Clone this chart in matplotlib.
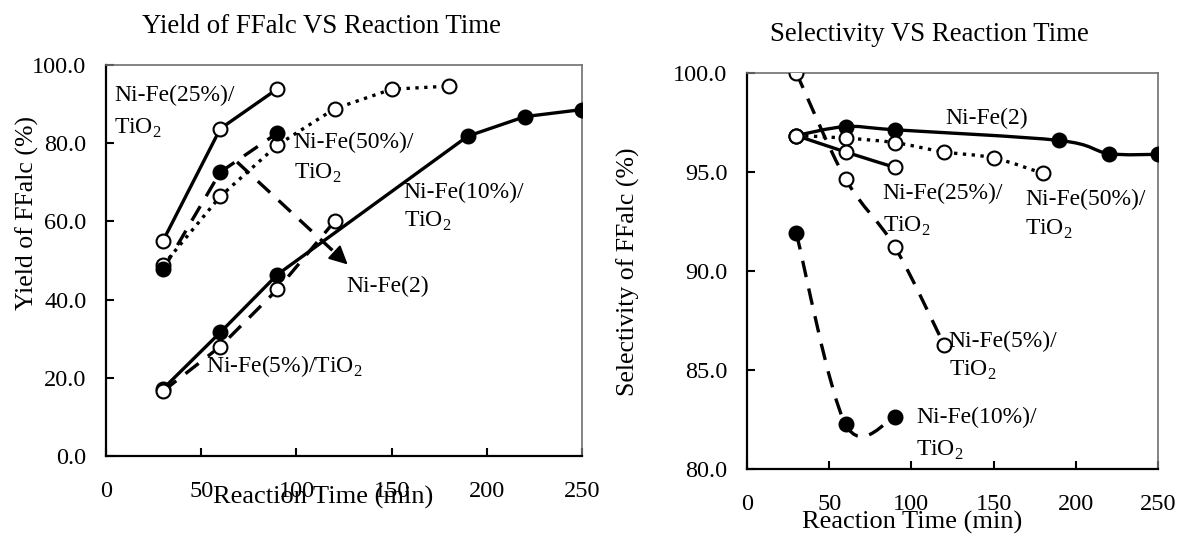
import numpy as np
import matplotlib
matplotlib.use('Agg')
import matplotlib.pyplot as plt
from matplotlib.path import Path
from matplotlib.patches import PathPatch

plt.rcParams['font.family'] = ['Liberation Serif', 'DejaVu Serif']
plt.rcParams['mathtext.fontset'] = 'custom'
plt.rcParams['mathtext.rm'] = 'Liberation Serif'

# ---- yield data (left chart) ----
t_25_y = [30, 60, 90]
y_25 = [55.1, 83.7, 93.9]
t_50_y = [30, 60, 90, 120, 150, 180]
y_50 = [48.8, 66.4, 79.5, 88.8, 93.8, 94.6]
t_2_y = [30, 60, 90]
y_2 = [47.7, 72.6, 82.6]
t_10_y = [30, 60, 90, 190, 220, 250]
y_10 = [17.2, 31.6, 46.4, 81.8, 86.8, 88.6]
t_5_y = [30, 60, 90, 120]
y_5 = [16.6, 28.0, 42.6, 60.0]

# ---- selectivity data (right chart) ----
t_2_s = [30, 60, 90, 190, 220, 250]
s_2 = [96.83, 97.28, 97.12, 96.58, 95.92, 95.88]
t_50_s = [30, 60, 90, 120, 150, 180]
s_50 = [96.83, 96.7, 96.47, 96.0, 95.7, 94.92]
t_25_s = [30, 60, 90]
s_25 = [96.83, 96.0, 95.22]
t_5_s = [30, 60, 90, 120]
s_5 = [100.0, 94.63, 91.2, 86.25]
t_10_s = [30, 60, 90]
s_10 = [91.9, 82.25, 82.63]

x_ticks = [0, 50, 100, 150, 200, 250]
y_ticks_yield = [0, 20, 40, 60, 80, 100]
y_ticks_sel = [80, 85, 90, 95, 100]

TIO2 = r'TiO$_\mathrm{2}$'
FS = 17
DASH = (0, (5, 3.5))


def smooth_path(x, y):
    # Excel-like smoothed line: cubic bezier through the points
    p = np.column_stack([x, y]).astype(float)
    n = len(p)
    verts = [p[0]]
    codes = [Path.MOVETO]
    for i in range(n - 1):
        p0 = p[i - 1] if i > 0 else p[i]
        p3 = p[i + 2] if i + 2 < n else p[i + 1]
        c1 = p[i] + (p[i + 1] - p0) / 6
        c2 = p[i + 1] - (p3 - p[i]) / 6
        verts += [c1, c2, p[i + 1]]
        codes += [Path.CURVE4] * 3
    return Path(verts, codes)


def series(ax, x, y, ls, filled, smooth=False):
    if smooth:
        ax.add_patch(PathPatch(smooth_path(x, y), fill=False, ec='black',
                               lw=2.4, ls=ls, capstyle='butt', zorder=2))
    else:
        ax.plot(x, y, color='black', lw=2.4, ls=ls, zorder=2)
    ax.plot(x, y, ls='none', marker='o', ms=10, mec='black', mew=1.5,
            mfc='black' if filled else 'white', zorder=3)


def style(ax, yticks):
    for s in ['left', 'bottom']:
        ax.spines[s].set_linewidth(1.6)
        ax.spines[s].set_color('black')
    for s in ['top', 'right']:
        ax.spines[s].set_linewidth(1.2)
        ax.spines[s].set_color('#707070')
    ax.set_xlim(0, 250)
    ax.set_xticks(x_ticks)
    ax.set_yticks(yticks)
    ax.set_yticklabels([f'{v:.1f}' for v in yticks])
    ax.tick_params(axis='x', direction='in', length=6, width=1.5, pad=18, labelsize=17.5)
    ax.tick_params(axis='y', direction='in', length=6, width=1.5, pad=14, labelsize=17.5)


fig = plt.figure(figsize=(11.78, 5.35), dpi=100)

# ---------- left: yield ----------
ax1 = fig.add_axes([0.0900, 0.1477, 0.4041, 0.7308])
series(ax1, t_25_y, y_25, '-', False)
series(ax1, t_50_y, y_50, ':', False)
series(ax1, t_2_y, y_2, DASH, True)
series(ax1, t_10_y, y_10, '-', True)
series(ax1, t_5_y, y_5, DASH, False)
style(ax1, y_ticks_yield)
ax1.set_ylim(0, 100)

# dashed arrow towards Ni-Fe(2) label
arrow_start = (68.8, 75.2)
arrow_end = (128, 48.5)
ax1.plot([arrow_start[0], arrow_end[0] - 5], [arrow_start[1], arrow_end[1] + 2.25],
         color='black', lw=2.4, ls=DASH, zorder=2)
ax1.annotate('', xy=arrow_end, xytext=(arrow_end[0] - 6, arrow_end[1] + 2.7),
             arrowprops=dict(arrowstyle='-|>', color='black', lw=1.5,
                             mutation_scale=28), zorder=2)

ax1.text(4.4, 92.1, 'Ni-Fe(25%)/', fontsize=FS, va='center')
ax1.text(4.4, 83.9, TIO2, fontsize=FS, va='center')
ax1.text(98.6, 80.1, 'Ni-Fe(50%)/', fontsize=FS, va='center')
ax1.text(98.6, 72.4, TIO2, fontsize=FS, va='center')
ax1.text(156.4, 67.3, 'Ni-Fe(10%)/', fontsize=FS, va='center')
ax1.text(156.4, 60.0, TIO2, fontsize=FS, va='center')
ax1.text(126.2, 43.4, 'Ni-Fe(2)', fontsize=FS, va='center')
ax1.text(52.7, 22.9, 'Ni-Fe(5%)/' + TIO2, fontsize=FS, va='center')

fig.text(0.273, 0.951, 'Yield of FFalc VS Reaction Time', fontsize=19.4,
         ha='center', va='center')
fig.text(0.274, 0.071, 'Reaction Time (min)', fontsize=19, ha='center', va='center')
fig.text(0.023, 0.601, 'Yield of FFalc (%)', fontsize=18.5, ha='center',
         va='center', rotation=90)

# ---------- right: selectivity ----------
ax2 = fig.add_axes([0.6341, 0.1234, 0.3489, 0.7407])
series(ax2, t_2_s, s_2, '-', True, smooth=True)
series(ax2, t_50_s, s_50, ':', False, smooth=True)
series(ax2, t_25_s, s_25, '-', False, smooth=True)
series(ax2, t_5_s, s_5, DASH, False, smooth=True)
series(ax2, t_10_s, s_10, DASH, True, smooth=True)
style(ax2, y_ticks_sel)
ax2.set_ylim(80, 100)

ax2.text(120.5, 97.67, 'Ni-Fe(2)', fontsize=FS, va='center')
ax2.text(82.5, 93.92, 'Ni-Fe(25%)/', fontsize=FS, va='center')
ax2.text(82.5, 92.25, TIO2, fontsize=FS, va='center')
ax2.text(169.3, 93.6, 'Ni-Fe(50%)/', fontsize=FS, va='center')
ax2.text(169.3, 92.08, TIO2, fontsize=FS, va='center')
ax2.text(122.7, 86.42, 'Ni-Fe(5%)/', fontsize=FS, va='center')
ax2.text(122.7, 85.0, TIO2, fontsize=FS, va='center')
ax2.text(103, 82.58, 'Ni-Fe(10%)/', fontsize=FS, va='center')
ax2.text(103, 80.92, TIO2, fontsize=FS, va='center')

fig.text(0.789, 0.936, 'Selectivity VS Reaction Time', fontsize=19.4,
         ha='center', va='center')
fig.text(0.774, 0.023, 'Reaction Time (min)', fontsize=19, ha='center', va='center')
fig.text(0.533, 0.492, 'Selectivity of FFalc (%)', fontsize=18.5, ha='center',
         va='center', rotation=90)

fig.savefig('out.png', dpi=100)
